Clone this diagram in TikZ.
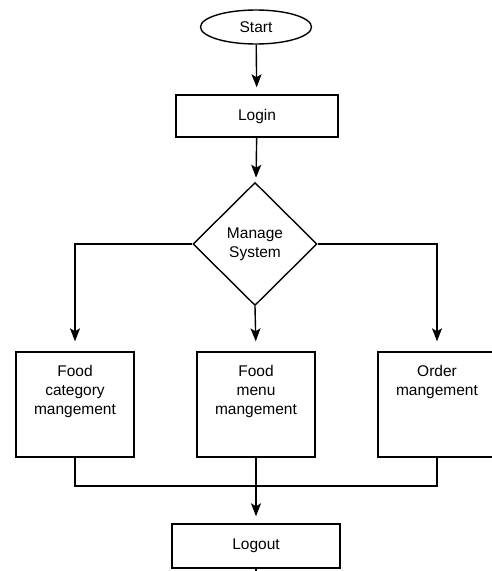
\documentclass[tikz,border=0pt]{standalone}
\usepackage{fontspec}
\setmainfont{Liberation Sans}
\usetikzlibrary{shapes.geometric,arrows.meta}

\tikzset{
  every node/.style={font=\fontsize{15.5}{19}\selectfont, text=black},
  flow/.style={draw=black, line width=1.4pt},
  terminal/.style={flow, ellipse, inner sep=0pt, minimum width=111pt, minimum height=34pt},
  process/.style={flow, rectangle, inner sep=0pt},
  decision/.style={flow, diamond, inner sep=0pt, align=center, minimum width=124pt, minimum height=123pt},
  tallbox/.style={process, minimum width=118pt, minimum height=105pt},
  boxtext/.style={anchor=north, align=center, inner sep=0pt},
  conn/.style={draw=black, line width=1.4pt},
  arrow/.style={conn, -{Stealth[length=13pt, width=10pt, inset=3pt]}},
}

\begin{document}
\begin{tikzpicture}[x=1pt, y=-1pt]
  \useasboundingbox (0,0) rectangle (491,571);

  % main column
  \node[terminal] (start) at (256,27) {Start};
  \node[process, minimum width=162pt, minimum height=42pt] (login) at (257,116) {Login};
  \node[decision] (manage) at (255,244) {Manage\\System};

  % management boxes
  \node[tallbox] (cat) at (75,404.5) {};
  \node[tallbox] (menu) at (256,404.5) {};
  \node[tallbox] (order) at (437,404.5) {};
  \node[boxtext] (cattext) at ([yshift=-14pt]cat.north) {Food\\category\\mangement};
  \node[boxtext] (menutext) at ([yshift=-14pt]menu.north) {Food\\menu\\mangement};
  \node[boxtext] (ordertext) at ([yshift=-14pt]order.north) {Order\\mangement};

  \node[process, minimum width=168pt, minimum height=44pt] (logout) at (256,546) {Logout};

  \coordinate (merge) at (256,486);
  \coordinate (tail) at (256,590);

  % connectors
  \draw[arrow, shorten >=7pt] (start) -- (login);
  \draw[arrow, shorten >=5pt] (login) -- (manage);
  \draw[arrow, shorten >=10pt] (manage.west) -| (cat.north);
  \draw[arrow, shorten >=10pt] (manage.south) -- (menu.north);
  \draw[arrow, shorten >=10pt] (manage.east) -| (order.north);
  \draw[conn] (cat.south) |- (merge);
  \draw[conn] (order.south) |- (merge);
  \draw[arrow, shorten >=7pt] (menu.south) -- (logout.north);
  \draw[conn] (logout.south) -- (tail);
\end{tikzpicture}
\end{document}
